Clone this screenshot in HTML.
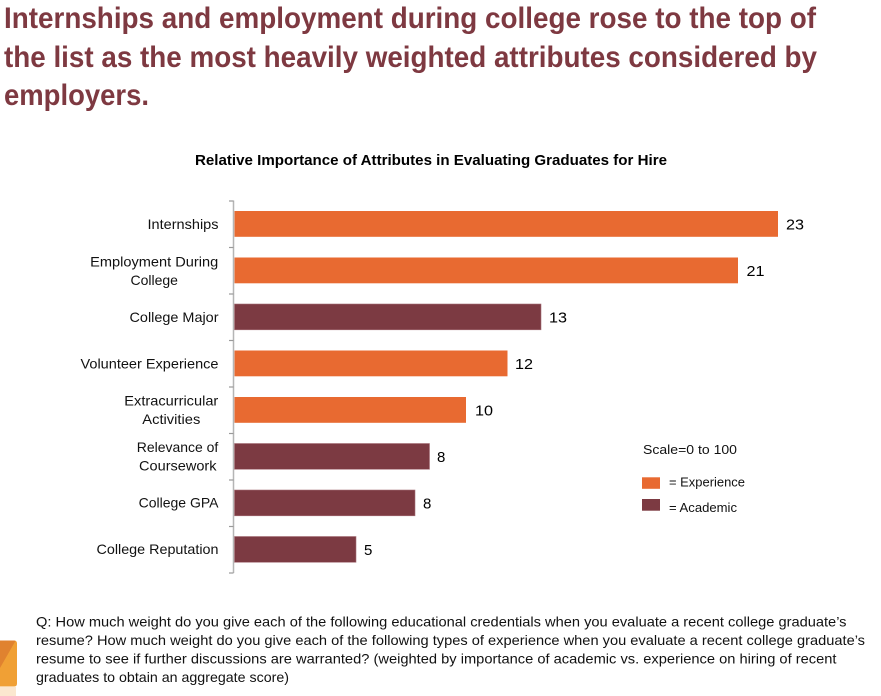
<!DOCTYPE html>
<html>
<head>
<meta charset="utf-8">
<style>
  html, body { margin: 0; padding: 0; background: #ffffff; }
  body { width: 881px; height: 696px; overflow: hidden; }
  svg { display: block; }
  .h { font-family: "Liberation Sans", sans-serif; font-weight: bold; font-size: 30px; fill: #7e3941; }
  .t { font-family: "Liberation Sans", sans-serif; font-weight: bold; font-size: 15px; fill: #000; }
  .l { font-family: "Liberation Sans", sans-serif; font-size: 14px; fill: #111; }
  .v { font-family: "Liberation Sans", sans-serif; font-size: 15px; fill: #000; }
  .g { font-family: "Liberation Sans", sans-serif; font-size: 13px; fill: #111; }
  .f { font-family: "Liberation Sans", sans-serif; font-size: 14px; fill: #111; }
</style>
</head>
<body>
<svg width="881" height="696" viewBox="0 0 881 696" xmlns="http://www.w3.org/2000/svg">
  <!-- Heading -->
  <text class="h" x="4" y="28" textLength="812" lengthAdjust="spacingAndGlyphs">Internships and employment during college rose to the top of</text>
  <text class="h" x="4" y="67" textLength="813" lengthAdjust="spacingAndGlyphs">the list as the most heavily weighted attributes considered by</text>
  <text class="h" x="4" y="105" textLength="145" lengthAdjust="spacingAndGlyphs">employers.</text>

  <!-- Chart title -->
  <text class="t" x="195" y="165" textLength="472" lengthAdjust="spacingAndGlyphs">Relative Importance of Attributes in Evaluating Graduates for Hire</text>

  <!-- Axis -->
  <line x1="233.5" y1="200.5" x2="233.5" y2="573" stroke="#b5b5b5" stroke-width="1.5"/>
  <g stroke="#9a9a9a" stroke-width="1.2">
    <line x1="229" y1="201" x2="233.5" y2="201"/>
    <line x1="229" y1="247.5" x2="233.5" y2="247.5"/>
    <line x1="229" y1="294" x2="233.5" y2="294"/>
    <line x1="229" y1="340.5" x2="233.5" y2="340.5"/>
    <line x1="229" y1="387" x2="233.5" y2="387"/>
    <line x1="229" y1="433.5" x2="233.5" y2="433.5"/>
    <line x1="229" y1="480" x2="233.5" y2="480"/>
    <line x1="229" y1="526.5" x2="233.5" y2="526.5"/>
    <line x1="229" y1="573" x2="233.5" y2="573"/>
  </g>

  <!-- Bars -->
  <rect x="234.5" y="211" width="543.5" height="25.8" fill="#e86a31"/>
  <rect x="234.5" y="257.5" width="503.5" height="25.8" fill="#e86a31"/>
  <rect x="234.5" y="304" width="306.5" height="25.8" fill="#7c3a42" stroke="#a7727a" stroke-width="0.6"/>
  <rect x="234.5" y="350.5" width="273" height="25.8" fill="#e86a31"/>
  <rect x="234.5" y="397" width="231.5" height="25.8" fill="#e86a31"/>
  <rect x="234.5" y="443.5" width="195" height="25.8" fill="#7c3a42" stroke="#a7727a" stroke-width="0.6"/>
  <rect x="234.5" y="490" width="180.5" height="25.8" fill="#7c3a42" stroke="#a7727a" stroke-width="0.6"/>
  <rect x="234.5" y="536.5" width="121.5" height="25.8" fill="#7c3a42" stroke="#a7727a" stroke-width="0.6"/>

  <!-- Value labels -->
  <text class="v" x="786" y="229.5" textLength="18" lengthAdjust="spacingAndGlyphs">23</text>
  <text class="v" x="746.5" y="276" textLength="18" lengthAdjust="spacingAndGlyphs">21</text>
  <text class="v" x="549" y="322.5" textLength="18" lengthAdjust="spacingAndGlyphs">13</text>
  <text class="v" x="515" y="369" textLength="18" lengthAdjust="spacingAndGlyphs">12</text>
  <text class="v" x="475" y="415.5" textLength="18" lengthAdjust="spacingAndGlyphs">10</text>
  <text class="v" x="437" y="462">8</text>
  <text class="v" x="423" y="508.5">8</text>
  <text class="v" x="364" y="555">5</text>

  <!-- Category labels -->
  <text class="l" x="218.5" y="229" text-anchor="end" textLength="71" lengthAdjust="spacingAndGlyphs">Internships</text>
  <text class="l" x="154.2" y="266.5" text-anchor="middle" textLength="128" lengthAdjust="spacingAndGlyphs">Employment During</text>
  <text class="l" x="154.2" y="285" text-anchor="middle">College</text>
  <text class="l" x="218.5" y="322" text-anchor="end" textLength="89" lengthAdjust="spacingAndGlyphs">College Major</text>
  <text class="l" x="218.5" y="368.5" text-anchor="end" textLength="138" lengthAdjust="spacingAndGlyphs">Volunteer Experience</text>
  <text class="l" x="171.3" y="405.5" text-anchor="middle" textLength="94" lengthAdjust="spacingAndGlyphs">Extracurricular</text>
  <text class="l" x="171.3" y="424" text-anchor="middle" textLength="58" lengthAdjust="spacingAndGlyphs">Activities</text>
  <text class="l" x="177.5" y="452" text-anchor="middle" textLength="81.5" lengthAdjust="spacingAndGlyphs">Relevance of</text>
  <text class="l" x="177.8" y="470.5" text-anchor="middle" textLength="77.5" lengthAdjust="spacingAndGlyphs">Coursework</text>
  <text class="l" x="218.5" y="507.5" text-anchor="end">College GPA</text>
  <text class="l" x="218.5" y="554" text-anchor="end" textLength="122" lengthAdjust="spacingAndGlyphs">College Reputation</text>

  <!-- Legend -->
  <text class="g" x="643" y="454" textLength="94" lengthAdjust="spacingAndGlyphs">Scale=0 to 100</text>
  <rect x="642" y="477.3" width="18" height="11.5" fill="#e86a31"/>
  <text class="g" x="669" y="486.3" textLength="76" lengthAdjust="spacingAndGlyphs">= Experience</text>
  <rect x="642" y="499" width="18" height="11.7" fill="#7c3a42"/>
  <text class="g" x="669" y="512" textLength="68" lengthAdjust="spacingAndGlyphs">= Academic</text>

  <!-- Footnote -->
  <text class="f" x="36" y="626.5" textLength="810.5" lengthAdjust="spacingAndGlyphs">Q: How much weight do you give each of the following educational credentials when you evaluate a recent college graduate’s</text>
  <text class="f" x="36" y="645" textLength="829" lengthAdjust="spacingAndGlyphs">resume? How much weight do you give each of the following types of experience when you evaluate a recent college graduate’s</text>
  <text class="f" x="36" y="663.5" textLength="800.5" lengthAdjust="spacingAndGlyphs">resume to see if further discussions are warranted? (weighted by importance of academic vs. experience on hiring of recent</text>
  <text class="f" x="36" y="682" textLength="253" lengthAdjust="spacingAndGlyphs">graduates to obtain an aggregate score)</text>

  <!-- Orange corner decoration -->
  <defs>
    <clipPath id="dc">
      <path d="M0 640.5 H14 Q17 640.5 17 643.5 V683.5 Q17 686.5 14 686.5 H0 Z"/>
    </clipPath>
  </defs>
  <g clip-path="url(#dc)">
    <rect x="0" y="640" width="18" height="47" fill="#f0a035"/>
    <path d="M0 640 H16 L0 668 Z" fill="#e0822f"/>
  </g>
  <rect x="0" y="687" width="16" height="9" fill="#fbe7cf"/>
</svg>
</body>
</html>
